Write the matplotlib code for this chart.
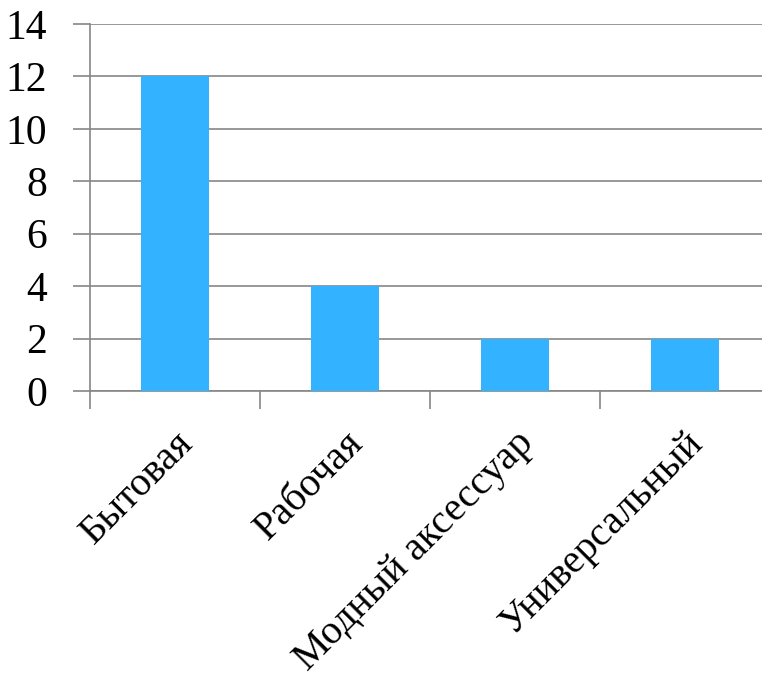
import matplotlib.pyplot as plt

# Данные
categories = ['Бытовая', 'Рабочая', 'Модный аксессуар', 'Универсальный']
values = [12, 4, 2, 2]

plt.rcParams['font.family'] = ['Liberation Serif', 'DejaVu Serif']

fig = plt.figure(figsize=(7.62, 6.86), dpi=100)
ax = fig.add_axes([90 / 762, 1 - 391 / 686, 680 / 762, 367 / 686])

grid_color = '#868686'
x = range(len(categories))
ax.bar(x, values, width=0.4, color='#33B3FF', zorder=3)

ax.set_xlim(-0.5, len(categories) - 0.5)
ax.set_ylim(0, 14)
ax.set_yticks(range(0, 15, 2))
ax.yaxis.grid(True, color=grid_color, linewidth=1.2, zorder=0)
ax.set_axisbelow(True)

for side in ['top', 'right']:
    ax.spines[side].set_visible(False)
for side in ['left', 'bottom']:
    ax.spines[side].set_color(grid_color)
    ax.spines[side].set_linewidth(1.2)

# метки категорий по центру, засечки на границах
ax.set_xticks(list(x))
ax.set_xticklabels(categories, rotation=45, ha='right', rotation_mode='anchor', fontsize=29)
ax.tick_params(axis='x', which='major', length=0, pad=24)
ax.set_xticks([i - 0.5 for i in range(len(categories) + 1)], minor=True)
ax.tick_params(axis='x', which='minor', length=13, color=grid_color, width=1.2)
ax.tick_params(axis='y', length=12, color=grid_color, width=1.2, labelsize=30, pad=19)

fig.savefig('out.png', dpi=100)
